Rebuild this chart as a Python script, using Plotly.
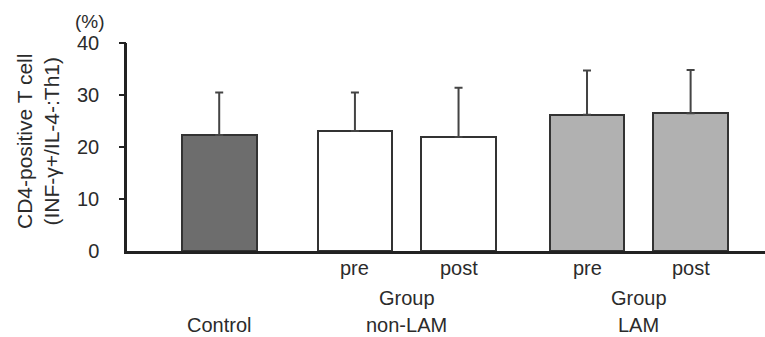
import plotly.graph_objects as go

# ---- data ----
groups = ["Control", "Group<br>non-LAM", "Group<br>non-LAM", "Group<br>LAM", "Group<br>LAM"]
phases = ["", "pre", "post", "pre", "post"]
means = [22.3, 23.1, 21.9, 26.2, 26.5]
sds = [8.2, 7.4, 9.5, 8.5, 8.3]
y_ticks = [0, 10, 20, 30, 40]

# ---- layout/style constants ----
slots = [0.89, 2.2, 3.2, 4.44, 5.44]
fills = ["#6d6d6d", "#ffffff", "#ffffff", "#b1b1b1", "#b1b1b1"]
FONT = "Liberation Sans, Arial, sans-serif"
TXT = "#2b2b2b"
LSZ = 20

fig = go.Figure()
fig.add_trace(go.Bar(
    x=slots, y=means, width=0.72,
    marker=dict(color=fills, line=dict(color="#333333", width=2)),
    error_y=dict(type="data", symmetric=False, array=sds,
                 arrayminus=[0] * len(sds), color="#444444",
                 thickness=2, width=4),
    showlegend=False,
))

fig.add_trace(go.Scatter(x=[slots[0]], y=[0], yaxis="y2", mode="markers",
                         marker=dict(opacity=0), showlegend=False,
                         hoverinfo="skip"))

ann = []
for xs, ph in zip(slots, phases):
    if ph:
        ann.append(dict(x=xs, y=0, xref="x", yref="paper", text=ph,
                        showarrow=False, yanchor="middle", yshift=-17,
                        font=dict(size=LSZ, color=TXT, family=FONT)))
seen = {}
for xs, g in zip(slots, groups):
    seen.setdefault(g, []).append(xs)
for g, xl in seen.items():
    cx = sum(xl) / len(xl)
    if "<br>" in g:
        top, bot = g.split("<br>")
        ann.append(dict(x=cx, y=0, xref="x", yref="paper", text=top,
                        showarrow=False, yanchor="middle", yshift=-47,
                        font=dict(size=LSZ, color=TXT, family=FONT)))
        ann.append(dict(x=cx, y=0, xref="x", yref="paper", text=bot,
                        showarrow=False, yanchor="middle", yshift=-74,
                        font=dict(size=LSZ, color=TXT, family=FONT)))
    else:
        ann.append(dict(x=cx, y=0, xref="x", yref="paper", text=g,
                        showarrow=False, yanchor="middle", yshift=-74,
                        font=dict(size=LSZ, color=TXT, family=FONT)))
ann.append(dict(x=0, y=0.524, xref="paper", yref="paper",
                text="CD4-positive T cell<br>(INF-γ+/IL-4-:Th1)",
                textangle=-90, showarrow=False, xanchor="center",
                yanchor="middle", xshift=-89,
                font=dict(size=21, color=TXT, family=FONT)))
ann.append(dict(x=0, y=1, xref="paper", yref="paper", text="(%)",
                showarrow=False, xanchor="center", yanchor="middle",
                xshift=-37, yshift=22,
                font=dict(size=19, color=TXT, family=FONT)))

fig.update_layout(
    width=765, height=337,
    margin=dict(l=127, r=0, t=43, b=86),
    paper_bgcolor="white", plot_bgcolor="white",
    font=dict(family=FONT, color=TXT, size=LSZ),
    xaxis=dict(range=[0, 6.158], showline=True, linecolor="#222222",
               linewidth=2.5, showticklabels=False, ticks="",
               showgrid=False, zeroline=False, fixedrange=True),
    yaxis=dict(range=[0, 40], showline=True, linecolor="#222222",
               linewidth=2.5, tickvals=y_ticks, ticks="outside",
               ticklen=7, tickcolor="rgba(0,0,0,0)",
               ticklabelstandoff=14,
               tickfont=dict(size=20, color=TXT, family=FONT),
               showgrid=False, zeroline=False),
    yaxis2=dict(range=[0, 40], overlaying="y", side="left",
                showline=False, tickvals=y_ticks[1:], ticks="outside",
                ticklen=7, tickwidth=2, tickcolor="#222222",
                showticklabels=False, showgrid=False, zeroline=False),
    annotations=ann,
    bargap=0,
)

fig.write_html("out.html")
